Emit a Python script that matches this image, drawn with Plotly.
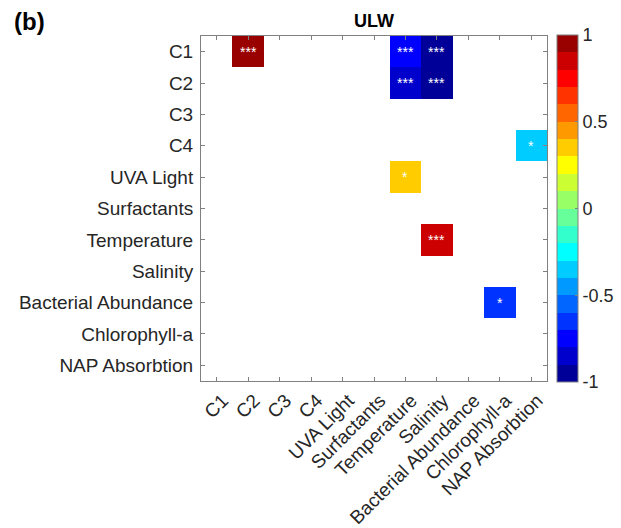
import plotly.graph_objects as go

# Variables (rows and columns of the correlation matrix)
variables = ["C1", "C2", "C3", "C4", "UVA Light", "Surfactants", "Temperature",
             "Salinity", "Bacterial Abundance", "Chlorophyll-a", "NAP Absorbtion"]

# Significant correlations: (row, column, r, significance stars)
rows = ["C1", "C1", "C1", "C2", "C2", "C4", "UVA Light", "Temperature", "Bacterial Abundance"]
cols = ["C2", "Temperature", "Salinity", "Temperature", "Salinity", "NAP Absorbtion",
        "Temperature", "Salinity", "Chlorophyll-a"]
r_values = [0.93, -0.75, -0.93, -0.85, -0.92, -0.35, 0.35, 0.85, -0.65]
stars = ["***", "***", "***", "***", "***", "*", "*", "***", "*"]

colorbar_ticks = [-1, -0.5, 0, 0.5, 1]

FONT = "Liberation Sans, Arial"
TEXT_COLOR = "#262626"


def jet(m):
    """MATLAB-style jet colormap with m entries (as 0..1 RGB tuples)."""
    n = -(-m // 4)
    u = [i / n for i in range(1, n + 1)] + [1.0] * (n - 1) + [i / n for i in range(n, 0, -1)]
    g0 = -(-n // 2) - (1 if m % 4 == 1 else 0)
    cmap = [[0.0, 0.0, 0.0] for _ in range(m)]
    for k, val in enumerate(u):
        g = g0 + k + 1
        r = g + n
        b = g - n
        if 1 <= r <= m:
            cmap[r - 1][0] = val
        if 1 <= g <= m:
            cmap[g - 1][1] = val
        if 1 <= b <= m:
            cmap[b - 1][2] = val
    return cmap


levels = 20
cmap = jet(levels)
colorscale = []
for k, (r, g, b) in enumerate(cmap):
    c = f"rgb({round(r*255)},{round(g*255)},{round(b*255)})"
    colorscale.append([k / levels, c])
    colorscale.append([(k + 1) / levels, c])

# Build the matrix (blank where not significant)
z = [[None for _ in variables] for _ in variables]
for rw, cl, v in zip(rows, cols, r_values):
    z[variables.index(rw)][variables.index(cl)] = v

fig = go.Figure()
fig.add_trace(go.Heatmap(
    z=z, x=variables, y=variables,
    zmin=-1, zmax=1, colorscale=colorscale,
    hoverongaps=False,
    colorbar=dict(
        x=1.029, xanchor="left", y=0.5, yanchor="middle",
        len=1.005, lenmode="fraction", thickness=21,
        xpad=0, ypad=0,
        tickvals=colorbar_ticks, ticktext=[str(t) for t in colorbar_ticks],
        ticks="inside", ticklen=3, tickcolor="#808080",
        outlinecolor="#808080", outlinewidth=1,
        tickfont=dict(family=FONT, size=18, color=TEXT_COLOR),
    ),
))

for rw, cl, s in zip(rows, cols, stars):
    fig.add_annotation(x=cl, y=rw, text=s, showarrow=False,
                       font=dict(family=FONT, size=14, color="white"))

axis_common = dict(
    showline=True, linecolor="#808080", linewidth=1, mirror="ticks",
    ticks="inside", ticklen=4, tickcolor="#808080",
    showgrid=False, zeroline=False,
    tickfont=dict(family=FONT, size=19, color=TEXT_COLOR),
)

fig.update_xaxes(tickangle=-45, ticklabelshift=6, **axis_common)
fig.update_yaxes(autorange="reversed", ticklabelstandoff=3, **axis_common)

fig.add_annotation(text="<b>ULW</b>", xref="paper", yref="paper", x=0.5, y=1.0,
                   yanchor="middle", yshift=15, showarrow=False,
                   font=dict(family=FONT, size=18, color="black"))
fig.add_annotation(text="<b>(b)</b>", xref="paper", yref="paper",
                   x=-189 / 346, xanchor="left", y=1.0, yanchor="middle", yshift=15,
                   showarrow=False,
                   font=dict(family=FONT, size=24, color="black"))

fig.update_layout(
    width=621, height=528,
    margin=dict(l=201, r=74, t=36, b=147, autoexpand=False),
    plot_bgcolor="white", paper_bgcolor="white",
    showlegend=False,
)

fig.write_html("out.html")
